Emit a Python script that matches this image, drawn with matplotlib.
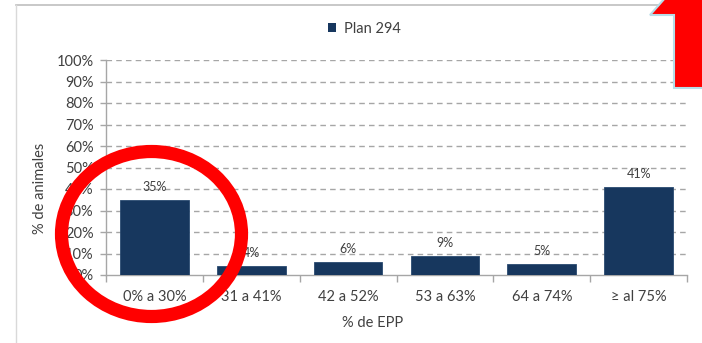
import matplotlib.pyplot as plt
from matplotlib.patches import Ellipse, Polygon, Patch
from matplotlib.lines import Line2D

# --- DATA ---
categories = ['0% a 30%', '31 a 41%', '42 a 52%', '53 a 63%', '64 a 74%', '≥ al 75%']
values = [35, 4, 6, 9, 5, 41]
series_name = 'Plan 294'
y_ticks = [0, 10, 20, 30, 40, 50, 60, 70, 80, 90, 100]

W, H = 702, 343
bar_color = '#17375E'
text_color = '#404040'
axis_color = '#a6a6a6'

plt.rcParams['font.family'] = ['Lato', 'DejaVu Sans']

fig = plt.figure(figsize=(W / 100, H / 100), dpi=100)
fig.patch.set_facecolor('white')

# plot area in pixel coords
left, right, top, bottom = 106, 687, 60, 275
ax = fig.add_axes([left / W, 1 - bottom / H, (right - left) / W, (bottom - top) / H])

x = list(range(len(categories)))
ax.bar(x, values, width=0.71, color=bar_color, edgecolor='#2a4a70', linewidth=0.6, zorder=3)

for xi, v in zip(x, values):
    ax.annotate(f'{v}%', (xi, v), xytext=(0, 5), textcoords='offset points',
                ha='center', va='bottom', fontsize=9, color=text_color, zorder=4)

ax.set_xlim(-0.5, len(categories) - 0.5)
ax.set_ylim(0, 100)
ax.set_yticks(y_ticks)
ax.set_yticklabels([f'{t}%' for t in y_ticks], fontsize=10.5, color=text_color)
ax.set_xticks(x)
ax.set_xticklabels(categories, fontsize=10.5, color=text_color)

# category boundary ticks
ax.set_xticks([i - 0.5 for i in range(len(categories) + 1)], minor=True)
ax.tick_params(axis='x', which='major', length=0, pad=11)
ax.tick_params(axis='x', which='minor', length=5, color=axis_color, width=1)
ax.tick_params(axis='y', length=4, color=axis_color, width=1, pad=5)

for t in y_ticks[1:]:
    ax.axhline(t, color='#a6a6a6', linestyle=(0, (4, 3)), linewidth=1, zorder=1)

for s in ['top', 'right']:
    ax.spines[s].set_visible(False)
for s in ['left', 'bottom']:
    ax.spines[s].set_color(axis_color)
    ax.spines[s].set_linewidth(1)

ax.set_facecolor('none')

# axis titles
fig.text(40 / W, 1 - 188 / H, '% de animales', rotation=90, ha='center', va='center',
         fontsize=10.5, color=text_color)
fig.text(373 / W, 1 - 323 / H, '% de EPP', ha='center', va='center',
         fontsize=10.5, color=text_color)

# legend
fig.legend(handles=[Patch(facecolor=bar_color, label=series_name)],
           loc='center', bbox_to_anchor=(364 / W, 1 - 29 / H), frameon=False,
           fontsize=10.5, handlelength=0.6, handleheight=0.6, handletextpad=0.5,
           labelcolor=text_color)

# chart frame lines (top and left)
fig.add_artist(Line2D([16 / W, 1], [1 - 5 / H, 1 - 5 / H], color='#bfbfbf', lw=1.2))
fig.add_artist(Line2D([16 / W, 16 / W], [1 - 5 / H, 0], color='#d9d9d9', lw=1))

# red circle highlight
ring = Ellipse((151.5 / W, 1 - 234 / H), 180 / W, 165 / H, transform=fig.transFigure,
               fill=False, edgecolor='#ff0000', linewidth=9.5, zorder=10)
fig.add_artist(ring)

# red arrow fragment top right
pts = [(650, 15), (666, -3), (706, -3), (706, 88), (674, 88), (674, 15)]
arrow = Polygon([(px / W, 1 - py / H) for px, py in pts], closed=True,
                transform=fig.transFigure, facecolor='#ff0000', edgecolor='#b7dde8',
                linewidth=1.5, zorder=10)
fig.add_artist(arrow)

fig.savefig('out.png', dpi=100)
